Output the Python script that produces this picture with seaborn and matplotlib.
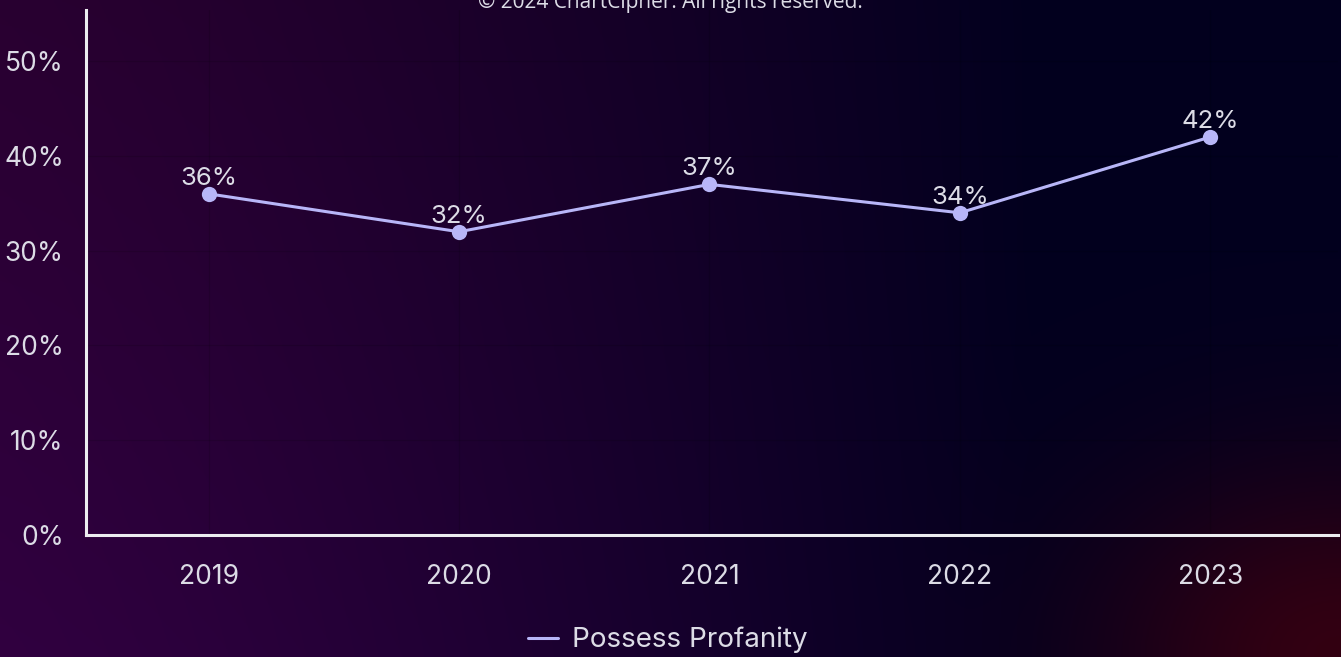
import matplotlib.pyplot as plt
import seaborn as sns
import numpy as np
import pandas as pd

# data
years = ['2019', '2020', '2021', '2022', '2023']
profanity = [36, 32, 37, 34, 42]
series_name = 'Possess Profanity'
y_ticks = [0, 10, 20, 30, 40, 50]

df = pd.DataFrame({'Year': years, 'Share': profanity})

sns.set_theme(style='white')
plt.rcParams['font.family'] = ['Inter', 'DejaVu Sans']

line_color = '#b8b6f8'
text_color = '#dcdce6'
axis_color = '#ececf0'

fig = plt.figure(figsize=(13.41, 6.57), dpi=100)

# gradient background: purple on the left, navy on the right, red glow bottom-right
h, w = 330, 670
xx, yy = np.meshgrid(np.linspace(0, 1, w), np.linspace(0, 1, h))
left = np.array([0.16, 0.0, 0.19])
left_bot = np.array([0.19, 0.0, 0.25])
right = np.array([0.01, 0.0, 0.12])
lc = left * (1 - yy[..., None]) + left_bot * yy[..., None]
t = np.clip(xx * 1.3, 0, 1)[..., None] ** 1.3
img = lc * (1 - t) + right * t
glow = np.exp(-(((1 - xx) / 0.18) ** 2 + ((1 - yy) / 0.28) ** 2))[..., None]
img = img * (1 - glow) + np.array([0.2, 0.0, 0.07]) * glow
bg = fig.add_axes([0, 0, 1, 1], zorder=-1)
bg.imshow(img, aspect='auto', extent=[0, 1, 0, 1], origin='upper')
bg.axis('off')

ax = fig.add_axes([86 / 1341, 122 / 657, 1252 / 1341, 525 / 657])
ax.patch.set_alpha(0)

sns.lineplot(data=df, x='Year', y='Share', ax=ax, color=line_color,
             linewidth=2.2, marker='o', markersize=11, markeredgewidth=0,
             label=series_name, sort=False)

for i, v in enumerate(profanity):
    ax.annotate(f'{v}%', (i, v), xytext=(0, 3), textcoords='offset points',
                ha='center', va='bottom', color=text_color, fontsize=18.5)

ax.set_xlim(-0.49, 4.51)
ax.set_ylim(0, 55.4)
ax.set_yticks(y_ticks)
ax.set_yticklabels([f'{t}%' for t in y_ticks])
ax.set_xlabel('')
ax.set_ylabel('')

ax.grid(True, color='#000000', alpha=0.12, linewidth=0.8)
for s in ['top', 'right']:
    ax.spines[s].set_visible(False)
for s in ['left', 'bottom']:
    ax.spines[s].set_color(axis_color)
    ax.spines[s].set_linewidth(2.2)
ax.tick_params(axis='both', colors=axis_color, length=5, width=2,
               labelcolor=text_color, labelsize=19)
ax.tick_params(axis='x', pad=16)
ax.tick_params(axis='y', pad=11)

leg = fig.legend(handles=ax.get_legend_handles_labels()[0],
                 labels=ax.get_legend_handles_labels()[1],
                 loc='center', bbox_to_anchor=(0.498, 1 - 640 / 657),
                 frameon=False, fontsize=20, handlelength=1.1, handletextpad=0.5)
ax.get_legend().remove()
for txt in leg.get_texts():
    txt.set_color(text_color)
for hl in leg.legend_handles:
    hl.set_marker('')

fig.text(0.5, 1 - 2 / 657, '© 2024 ChartCipher. All rights reserved.',
         ha='center', va='center', color=text_color, fontsize=15,
         family=['Open Sans', 'DejaVu Sans'])

fig.savefig('out.png', dpi=100)
